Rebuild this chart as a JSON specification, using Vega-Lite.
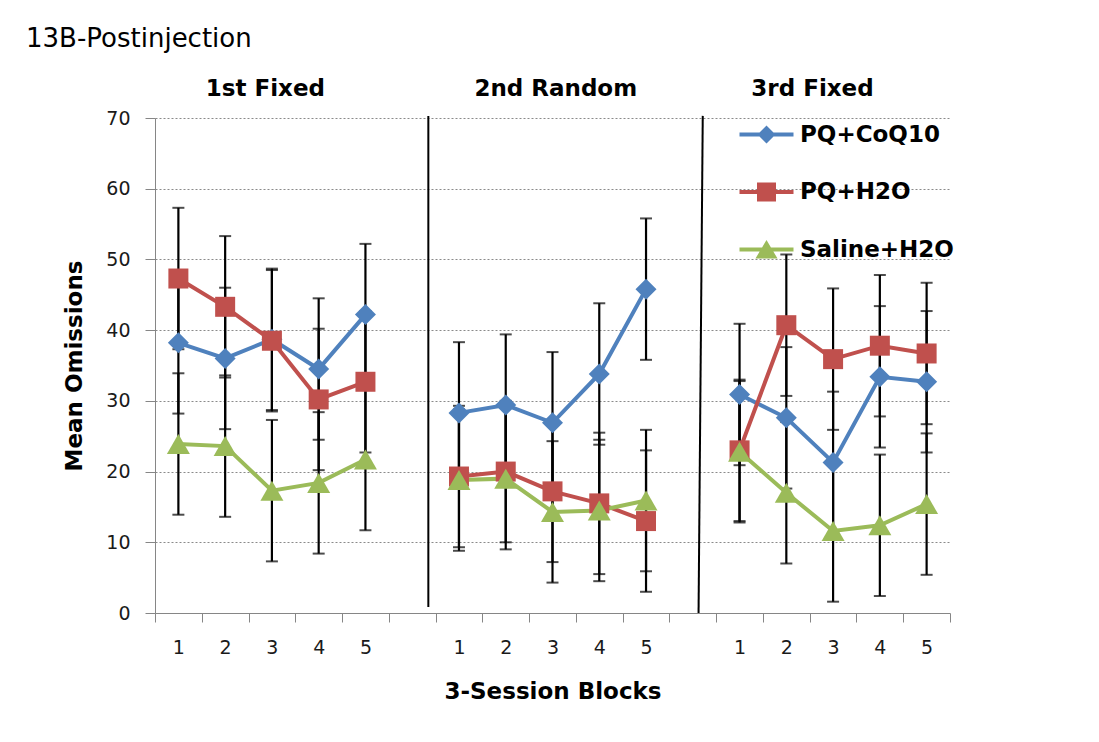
{
  "$schema": "https://vega.github.io/schema/vega-lite/v6.json",
  "width": 795,
  "height": 495,
  "autosize": "none",
  "padding": {"left": 155, "top": 118, "right": 149, "bottom": 129},
  "background": "white",
  "title": {"text": "13B-Postinjection", "anchor": "start", "frame": "group", "font": "DejaVu Sans", "fontSize": 26, "fontWeight": "normal", "color": "black", "dx": -129, "offset": 26},
  "config": {
    "view": {"stroke": null},
    "font": "DejaVu Sans"
  },
  "datasets": {
    "series": [
      {"group": "PQ+CoQ10", "block": 1, "pos": 1, "mean": 38.2, "err": 10},
      {"group": "PQ+CoQ10", "block": 1, "pos": 2, "mean": 36.0, "err": 10},
      {"group": "PQ+CoQ10", "block": 1, "pos": 3, "mean": 38.7, "err": 10},
      {"group": "PQ+CoQ10", "block": 1, "pos": 4, "mean": 34.5, "err": 10},
      {"group": "PQ+CoQ10", "block": 1, "pos": 5, "mean": 42.2, "err": 10},
      {"group": "PQ+CoQ10", "block": 2, "pos": 7, "mean": 28.3, "err": 10},
      {"group": "PQ+CoQ10", "block": 2, "pos": 8, "mean": 29.4, "err": 10},
      {"group": "PQ+CoQ10", "block": 2, "pos": 9, "mean": 26.9, "err": 10},
      {"group": "PQ+CoQ10", "block": 2, "pos": 10, "mean": 33.8, "err": 10},
      {"group": "PQ+CoQ10", "block": 2, "pos": 11, "mean": 45.8, "err": 10},
      {"group": "PQ+CoQ10", "block": 3, "pos": 13, "mean": 30.9, "err": 10},
      {"group": "PQ+CoQ10", "block": 3, "pos": 14, "mean": 27.6, "err": 10},
      {"group": "PQ+CoQ10", "block": 3, "pos": 15, "mean": 21.3, "err": 10},
      {"group": "PQ+CoQ10", "block": 3, "pos": 16, "mean": 33.4, "err": 10},
      {"group": "PQ+CoQ10", "block": 3, "pos": 17, "mean": 32.7, "err": 10},
      {"group": "PQ+H2O", "block": 1, "pos": 1, "mean": 47.3, "err": 10},
      {"group": "PQ+H2O", "block": 1, "pos": 2, "mean": 43.3, "err": 10},
      {"group": "PQ+H2O", "block": 1, "pos": 3, "mean": 38.5, "err": 10},
      {"group": "PQ+H2O", "block": 1, "pos": 4, "mean": 30.2, "err": 10},
      {"group": "PQ+H2O", "block": 1, "pos": 5, "mean": 32.7, "err": 10},
      {"group": "PQ+H2O", "block": 2, "pos": 7, "mean": 19.3, "err": 10},
      {"group": "PQ+H2O", "block": 2, "pos": 8, "mean": 20.0, "err": 10},
      {"group": "PQ+H2O", "block": 2, "pos": 9, "mean": 17.2, "err": 10},
      {"group": "PQ+H2O", "block": 2, "pos": 10, "mean": 15.5, "err": 10},
      {"group": "PQ+H2O", "block": 2, "pos": 11, "mean": 13.0, "err": 10},
      {"group": "PQ+H2O", "block": 3, "pos": 13, "mean": 23.0, "err": 10},
      {"group": "PQ+H2O", "block": 3, "pos": 14, "mean": 40.7, "err": 10},
      {"group": "PQ+H2O", "block": 3, "pos": 15, "mean": 35.9, "err": 10},
      {"group": "PQ+H2O", "block": 3, "pos": 16, "mean": 37.8, "err": 10},
      {"group": "PQ+H2O", "block": 3, "pos": 17, "mean": 36.7, "err": 10},
      {"group": "Saline+H2O", "block": 1, "pos": 1, "mean": 23.9, "err": 10},
      {"group": "Saline+H2O", "block": 1, "pos": 2, "mean": 23.6, "err": 10},
      {"group": "Saline+H2O", "block": 1, "pos": 3, "mean": 17.3, "err": 10},
      {"group": "Saline+H2O", "block": 1, "pos": 4, "mean": 18.4, "err": 10},
      {"group": "Saline+H2O", "block": 1, "pos": 5, "mean": 21.7, "err": 10},
      {"group": "Saline+H2O", "block": 2, "pos": 7, "mean": 18.8, "err": 10},
      {"group": "Saline+H2O", "block": 2, "pos": 8, "mean": 19.0, "err": 10},
      {"group": "Saline+H2O", "block": 2, "pos": 9, "mean": 14.3, "err": 10},
      {"group": "Saline+H2O", "block": 2, "pos": 10, "mean": 14.5, "err": 10},
      {"group": "Saline+H2O", "block": 2, "pos": 11, "mean": 15.9, "err": 10},
      {"group": "Saline+H2O", "block": 3, "pos": 13, "mean": 22.8, "err": 10},
      {"group": "Saline+H2O", "block": 3, "pos": 14, "mean": 17.0, "err": 10},
      {"group": "Saline+H2O", "block": 3, "pos": 15, "mean": 11.6, "err": 10},
      {"group": "Saline+H2O", "block": 3, "pos": 16, "mean": 12.4, "err": 10},
      {"group": "Saline+H2O", "block": 3, "pos": 17, "mean": 15.4, "err": 10}
    ],
    "panels": [
      {"label": "1st Fixed", "pos": 2.86, "level": 70},
      {"label": "2nd Random", "pos": 9.07, "level": 70},
      {"label": "3rd Fixed", "pos": 14.56, "level": 70}
    ],
    "separators": [
      {"xTop": 6.345, "xBottom": 6.345, "top": 70.3, "bottom": 0.85},
      {"xTop": 12.213, "xBottom": 12.123, "top": 70.3, "bottom": 0}
    ]
  },
  "data": {"name": "series"},
  "encoding": {
    "x": {
      "field": "pos", "type": "quantitative",
      "scale": {"domain": [0.5, 17.5], "nice": false, "zero": false},
      "axis": {
        "title": "3-Session Blocks", "titleFont": "DejaVu Sans", "titleFontSize": 23, "titleFontWeight": "bold", "titleColor": "black", "titlePadding": 23,
        "values": [0.5,1.5,2.5,3.5,4.5,5.5,6.5,7.5,8.5,9.5,10.5,11.5,12.5,13.5,14.5,15.5,16.5,17.5],
        "labelExpr": "indexof([5.5, 11.5, 17.5], datum.value) >= 0 ? '' : '' + ((datum.value - 0.5) % 6 + 1)",
        "labelOffset": 23.38, "labelFlush": false, "labelOverlap": false, "labelBound": false,
        "labelAngle": 0, "labelFont": "DejaVu Sans", "labelFontSize": 19, "labelColor": "#1a1a1a", "labelPadding": 16,
        "tickSize": 9, "tickColor": "#868686", "domainColor": "#868686", "domainWidth": 1, "grid": false
      }
    },
    "y": {
      "field": "mean", "type": "quantitative",
      "scale": {"domain": [0, 70], "nice": false},
      "axis": {
        "title": "Mean Omissions", "titleFont": "DejaVu Sans", "titleFontSize": 23, "titleFontWeight": "bold", "titleColor": "black", "titlePadding": 19,
        "values": [0,10,20,30,40,50,60,70],
        "labelFont": "DejaVu Sans", "labelFontSize": 19, "labelColor": "#1a1a1a", "labelPadding": 15,
        "tickSize": 10, "tickColor": "#868686", "domainColor": "#868686",
        "grid": true, "gridColor": "#8a8a8a", "gridDash": [2, 2], "gridWidth": 1
      }
    }
  },
  "resolve": {"scale": {"shape": "independent"}, "legend": {"color": "independent", "shape": "independent"}},
  "layer": [
    {
      "data": {"name": "separators"},
      "mark": {"type": "rule", "color": "black", "strokeWidth": 2},
      "encoding": {
        "x": {"field": "xTop", "type": "quantitative"},
        "x2": {"field": "xBottom"},
        "y": {"field": "top", "type": "quantitative"},
        "y2": {"field": "bottom"}
      }
    },
    {
      "mark": {"type": "errorbar", "ticks": {"size": 12, "thickness": 2, "color": "black"}, "rule": {"strokeWidth": 2.2, "color": "black"}},
      "encoding": {
        "y": {"field": "mean", "type": "quantitative"},
        "yError": {"field": "err"},
        "detail": {"field": "group"}
      }
    },
    {
      "mark": {"type": "line", "strokeWidth": 4},
      "encoding": {
        "color": {
          "field": "group", "type": "nominal",
          "scale": {"domain": ["PQ+CoQ10", "PQ+H2O", "Saline+H2O"], "range": ["#4F81BD", "#C0504D", "#9BBB59"]},
          "legend": null
        },
        "detail": {"field": "block"}
      }
    },
    {
      "mark": {"type": "point", "filled": true, "opacity": 1, "size": 400},
      "encoding": {
        "color": {"field": "group", "type": "nominal", "legend": null},
        "shape": {
          "field": "group", "type": "nominal",
          "scale": {"domain": ["PQ+CoQ10", "PQ+H2O", "Saline+H2O"], "range": ["M0,-1.05L1.05,0L0,1.05L-1.05,0Z", "M-1,-1L1,-1L1,1L-1,1Z", "M0,-1L1.15,1L-1.15,1Z"]},
          "legend": null
        }
      }
    },
    {
      "mark": {"type": "point", "filled": true, "opacity": 0, "size": 400},
      "encoding": {
        "color": {
          "field": "group", "type": "nominal",
          "legend": {
            "orient": "none", "legendX": 600, "legendY": 5, "title": null, "padding": 0,
            "labelFont": "DejaVu Sans", "labelFontWeight": "bold", "labelFontSize": 23, "labelColor": "black",
            "symbolSize": 400, "symbolOpacity": 1, "symbolStrokeWidth": 0, "rowPadding": 33.5, "labelOffset": 22
          }
        },
        "shape": {
          "field": "group", "type": "nominal",
          "scale": {"domain": ["PQ+CoQ10", "PQ+H2O", "Saline+H2O"], "range": [
            "M-2.7,-0.2L2.7,-0.2L2.7,0.2L-2.7,0.2Z M0,-0.9L0.9,0L0,0.9L-0.9,0Z",
            "M-2.7,-0.2L2.7,-0.2L2.7,0.2L-2.7,0.2Z M-0.95,-0.95L0.95,-0.95L0.95,0.95L-0.95,0.95Z",
            "M-2.7,-0.2L2.7,-0.2L2.7,0.2L-2.7,0.2Z M0,-0.95L1.1,0.9L-1.1,0.9Z"
          ]},
          "legend": {
            "orient": "none", "legendX": 600, "legendY": 5, "title": null, "padding": 0,
            "labelFont": "DejaVu Sans", "labelFontWeight": "bold", "labelFontSize": 23, "labelColor": "black",
            "symbolSize": 400, "symbolOpacity": 1, "symbolStrokeWidth": 0, "rowPadding": 33.5, "labelOffset": 22
          }
        }
      }
    },
    {
      "data": {"name": "panels"},
      "mark": {"type": "text", "font": "DejaVu Sans", "fontSize": 23, "fontWeight": "bold", "color": "black", "baseline": "alphabetic", "dy": -22},
      "encoding": {
        "x": {"field": "pos", "type": "quantitative"},
        "y": {"field": "level", "type": "quantitative"},
        "text": {"field": "label"}
      }
    }
  ]
}
